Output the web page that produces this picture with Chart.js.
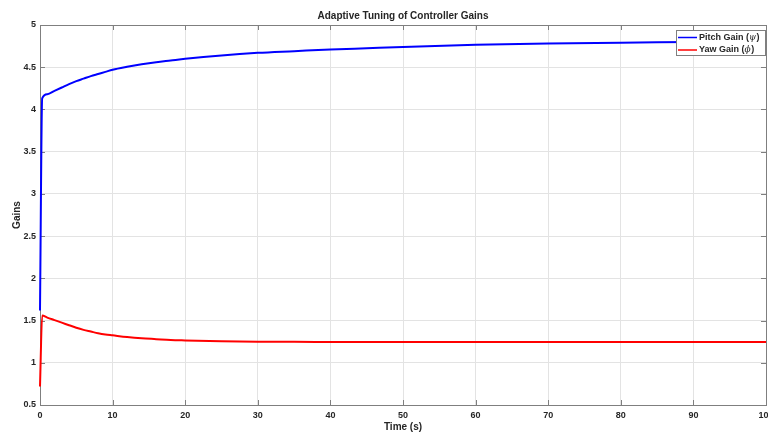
<!DOCTYPE html>
<html>
<head>
<meta charset="utf-8">
<script src="https://cdn.jsdelivr.net/npm/chart.js@4.4.1/dist/chart.umd.min.js"></script>
<style>
  body { margin: 0; background: #fff; }
  canvas { display: block; }
</style>
</head>
<body>
<canvas id="gainChart" width="768" height="433"></canvas>
<script>
// time samples (s)
const timeS = [0, 0.3, 1, 2, 3, 4, 5, 6, 7, 8, 9, 10, 12, 14, 16, 18, 20, 25, 30, 35, 40, 45, 50, 60, 70, 80, 90, 100];
// Pitch gain (psi)
const pitchGain = [1.62, 4.13, 4.18, 4.22, 4.26, 4.30, 4.335, 4.365, 4.395, 4.42, 4.445, 4.47, 4.505, 4.535, 4.56, 4.58, 4.60, 4.64, 4.67, 4.69, 4.71, 4.725, 4.74, 4.765, 4.78, 4.79, 4.80, 4.81];
// Yaw gain (phi)
const yawGain = [0.72, 1.56, 1.535, 1.505, 1.475, 1.445, 1.415, 1.39, 1.37, 1.35, 1.335, 1.325, 1.305, 1.29, 1.28, 1.27, 1.265, 1.255, 1.25, 1.248, 1.247, 1.246, 1.245, 1.245, 1.245, 1.245, 1.245, 1.245];

const seriesLabels = ['Pitch Gain (ψ)', 'Yaw Gain (ϕ)'];
const greekSym = ['ψ', 'ϕ'];
const chartTitle = 'Adaptive Tuning of Controller Gains';
const xTitle = 'Time (s)';
const yTitle = 'Gains';

const axisGray = '#7f7f7f';
const textCol = '#262626';
const fontFam = '"Liberation Sans", Arial, Helvetica, sans-serif';

function toPoints(xs, ys) {
    return xs.map((x, i) => ({ x: x, y: ys[i] }));
}

// MATLAB-ish box + inward ticks under the lines, title and legend on top
const matlabDecor = {
    id: 'matlabDecor',
    beforeDatasetsDraw(chart) {
        const ctx = chart.ctx;
        const a = chart.chartArea;
        const xs = chart.scales.x, ys = chart.scales.y;
        ctx.save();
        ctx.strokeStyle = axisGray;
        ctx.lineWidth = 1;
        ctx.beginPath();
        xs.ticks.forEach(t => {
            const px = Math.round(xs.getPixelForValue(t.value)) + 0.5;
            ctx.moveTo(px, a.bottom); ctx.lineTo(px, a.bottom - 5);
            ctx.moveTo(px, a.top); ctx.lineTo(px, a.top + 5);
        });
        ys.ticks.forEach(t => {
            const py = Math.round(ys.getPixelForValue(t.value)) + 0.5;
            ctx.moveTo(a.left, py); ctx.lineTo(a.left + 5, py);
            ctx.moveTo(a.right, py); ctx.lineTo(a.right - 5, py);
        });
        ctx.stroke();
        ctx.strokeRect(Math.round(a.left) + 0.5, Math.round(a.top) + 0.5,
            Math.round(a.right - a.left), Math.round(a.bottom - a.top));
        ctx.restore();
    },
    afterDraw(chart) {
        const ctx = chart.ctx;
        const a = chart.chartArea;
        ctx.save();
        // title
        ctx.fillStyle = textCol;
        ctx.font = 'bold 10px ' + fontFam;
        ctx.textAlign = 'center';
        ctx.textBaseline = 'middle';
        ctx.fillText(chartTitle, (a.left + a.right) / 2, 16);

        // legend box
        const bx = 676.5, by = 30.5, bw = 89, bh = 25;
        ctx.fillStyle = '#fff';
        ctx.fillRect(bx, by, bw, bh);
        ctx.strokeStyle = axisGray;
        ctx.lineWidth = 1;
        ctx.strokeRect(bx, by, bw, bh);
        ctx.textAlign = 'left';
        chart.data.datasets.forEach((ds, i) => {
            const cy = 37.5 + i * 12.5;
            ctx.strokeStyle = ds.borderColor;
            ctx.lineWidth = 1.5;
            ctx.beginPath();
            ctx.moveTo(678, cy); ctx.lineTo(697, cy);
            ctx.stroke();
            const base = ds.label.replace(greekSym[i] + ')', '');
            let tx = 699;
            ctx.fillStyle = textCol;
            ctx.font = 'bold 9px ' + fontFam;
            ctx.fillText(base, tx, cy);
            tx += ctx.measureText(base).width;
            ctx.font = 'italic 9px "DejaVu Serif", serif';
            ctx.fillText(greekSym[i], tx, cy);
            tx += ctx.measureText(greekSym[i]).width + 0.5;
            ctx.font = 'bold 9px ' + fontFam;
            ctx.fillText(')', tx, cy);
        });
        ctx.restore();
    }
};

new Chart(document.getElementById('gainChart'), {
    type: 'line',
    data: {
        datasets: [{
            label: seriesLabels[0],
            data: toPoints(timeS, pitchGain),
            borderColor: '#0000ff',
            borderWidth: 2,
            pointRadius: 0,
            fill: false,
            clip: { left: 3, top: 0, right: 0, bottom: 0 },
            cubicInterpolationMode: 'monotone'
        }, {
            label: seriesLabels[1],
            data: toPoints(timeS, yawGain),
            borderColor: '#ff0000',
            borderWidth: 2,
            pointRadius: 0,
            fill: false,
            clip: { left: 3, top: 0, right: 0, bottom: 0 },
            cubicInterpolationMode: 'monotone'
        }]
    },
    options: {
        responsive: false,
        animation: false,
        devicePixelRatio: 1,
        layout: { padding: { left: 0, right: 2, top: 25, bottom: 0 } },
        plugins: {
            legend: { display: false },
            title: { display: false },
            tooltip: { enabled: false }
        },
        scales: {
            x: {
                type: 'linear',
                min: 0,
                max: 100,
                border: { display: false },
                grid: { color: '#e3e3e3', drawTicks: false },
                ticks: {
                    stepSize: 10,
                    padding: 5,
                    maxRotation: 0,
                    color: textCol,
                    font: { family: fontFam, size: 9, weight: 'bold' }
                },
                title: {
                    display: true,
                    text: xTitle,
                    color: textCol,
                    padding: { top: 0, bottom: 0 },
                    font: { family: fontFam, size: 10, weight: 'bold' }
                },
                afterFit(s) {
                    s.height = 28;
                    s.paddingLeft = 0;
                    s.paddingRight = 0;
                }
            },
            y: {
                min: 0.5,
                max: 5,
                border: { display: false },
                grid: { color: '#e3e3e3', drawTicks: false },
                ticks: {
                    stepSize: 0.5,
                    padding: 4,
                    color: textCol,
                    font: { family: fontFam, size: 9, weight: 'bold' },
                    callback: v => String(v)
                },
                title: {
                    display: true,
                    text: yTitle,
                    color: textCol,
                    padding: { top: 11, bottom: 0 },
                    font: { family: fontFam, size: 10, weight: 'bold' }
                },
                afterFit(s) {
                    s.width = 40;
                    s.paddingTop = 0;
                    s.paddingBottom = 0;
                }
            }
        }
    },
    plugins: [matlabDecor]
});
</script>
</body>
</html>
